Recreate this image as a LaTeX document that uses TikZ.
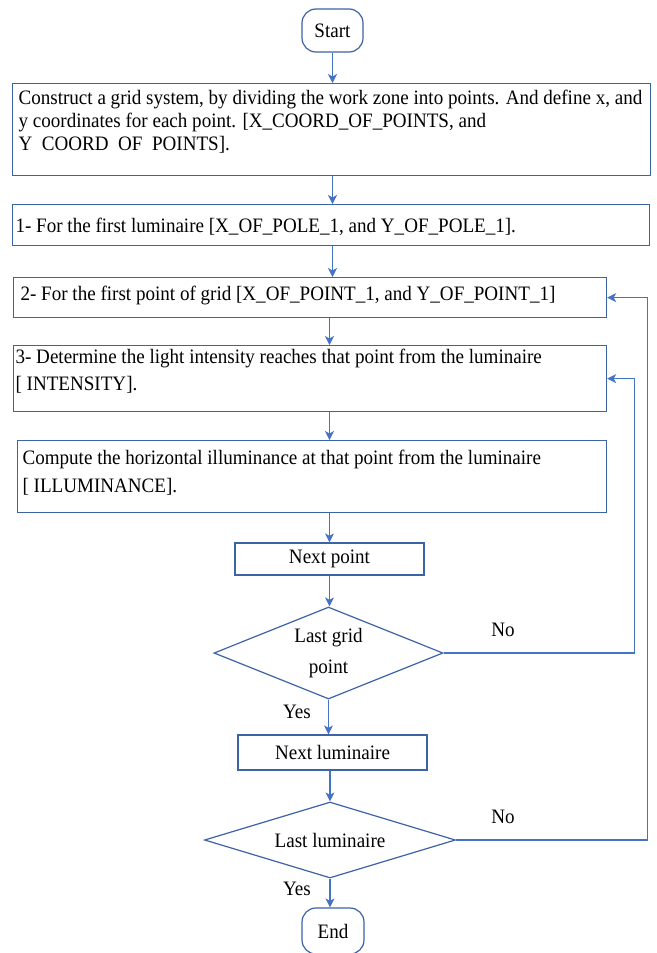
\documentclass[tikz,border=0pt]{standalone}
\usepackage{fontspec}
\setmainfont{Liberation Serif}[FakeStretch=0.93]
\usetikzlibrary{arrows.meta,shapes.geometric}
\definecolor{boxblue}{RGB}{60,98,168}
\definecolor{lineblue}{RGB}{68,114,196}
\hfuzz=200pt \hbadness=10000 \vfuzz=200pt \vbadness=10000
% width, height, left pad, baselineskip, top pad, text
\newcommand\mytxt[6]{\parbox[c][#2][t]{#1}{\fontsize{20.5}{#4}\selectfont\raggedright\leftskip=#3\relax\vspace*{#5}#6}}
\begin{document}
\begin{tikzpicture}[x=1pt,y=-1pt,
  base/.style={font=\fontsize{20.5}{23}\selectfont, text=black},
  pbox/.style={draw=boxblue, line width=1.2pt, inner sep=0pt, anchor=north west},
  sbox/.style={base, draw=boxblue, line width=1.2pt, inner sep=0pt, minimum width=189pt},
  term/.style={base, draw=boxblue, line width=1.2pt, rounded corners=14pt, inner sep=0pt, minimum width=61pt, minimum height=43pt},
  dec/.style={base, draw=boxblue, line width=1.2pt, diamond, inner sep=0pt, aspect=2.5, align=center},
  arr/.style={draw=lineblue, line width=1.2pt, -{Stealth[length=9pt,width=9pt,inset=2.5pt]}},
  lbl/.style={base, inner sep=0pt}
]
\clip (0,0) rectangle (656,953);
\fill[white] (0,0) rectangle (656,953);

\node[term] (start) at (332.5,30.5) {Start};

\node[pbox] (b1) at (12,83) {\mytxt{638pt}{92pt}{6pt}{23pt}{6pt}{%
\mbox{Construct a grid system, by dividing the work zone into points. And define x, and}\\
\mbox{y coordinates for each point. [X\_COORD\_OF\_POINTS, and}\\
\mbox{Y\hphantom{\_}COORD\hphantom{\_}OF\hphantom{\_}POINTS].}}};

\node[pbox] (b2) at (12,204) {\mytxt{637pt}{41pt}{3pt}{23pt}{13pt}{%
\mbox{1- For the first luminaire [X\_OF\_POLE\_1, and Y\_OF\_POLE\_1].}}};

\node[pbox] (b3) at (13,277) {\mytxt{593pt}{40pt}{7pt}{23pt}{8pt}{%
\mbox{2- For the first point of grid [X\_OF\_POINT\_1, and Y\_OF\_POINT\_1]}}};

\node[pbox] (b4) at (13,345) {\mytxt{593pt}{66pt}{2pt}{27pt}{3pt}{%
\mbox{3- Determine the light intensity reaches that point from the luminaire}\\
\mbox{[ INTENSITY].}}};

\node[pbox] (b5) at (17,440) {\mytxt{589pt}{72pt}{5pt}{28pt}{9pt}{%
\mbox{Compute the horizontal illuminance at that point from the luminaire}\\
\mbox{[ ILLUMINANCE].}}};

\node[sbox, minimum height=32pt] (np) at (329.5,559) {Next point};
\node[dec, minimum width=229pt, minimum height=92pt, font=\fontsize{20.5}{31}\selectfont] (d1) at (328.5,653) {Last grid\\point};
\node[sbox, minimum height=35pt] (nl) at (332.5,752.5) {Next luminaire};
\node[dec, minimum width=251pt, minimum height=76pt] (d2) at (330,840) {Last luminaire};
\node[term, minimum width=62pt, minimum height=46pt] (end) at (333,931) {End};

\node[lbl] (no1) at (503,630) {No};
\node[lbl] (no2) at (503,817) {No};
\node[lbl] (yes1) at (297,712) {Yes};
\node[lbl] (yes2) at (297,889) {Yes};

\draw[arr] (start.south) -- (start.south |- b1.north);
\draw[arr] (b1.south -| start.south) -- (b2.north -| start.south);
\draw[arr] (b2.south -| start.south) -- (b3.north -| start.south);
\draw[arr] (b3.south -| np.north) -- (b4.north -| np.north);
\draw[arr] (b4.south -| np.north) -- (b5.north -| np.north);
\draw[arr] (b5.south -| np.north) -- (np.north);
\draw[arr] (np.south) -- (np.south |- d1.north);
\draw[arr] (d1.south) -- (d1.south |- nl.north);
\draw[arr] (nl.south -| d2.north) -- (d2.north);
\draw[arr] (d2.south) -- (d2.south |- end.north);
\draw[arr] (d1.east) -- ++(191,0) |- (b4.east);
\draw[arr] (d2.east) -- ++(191.5,0) |- (b3.east);
\end{tikzpicture}
\end{document}
